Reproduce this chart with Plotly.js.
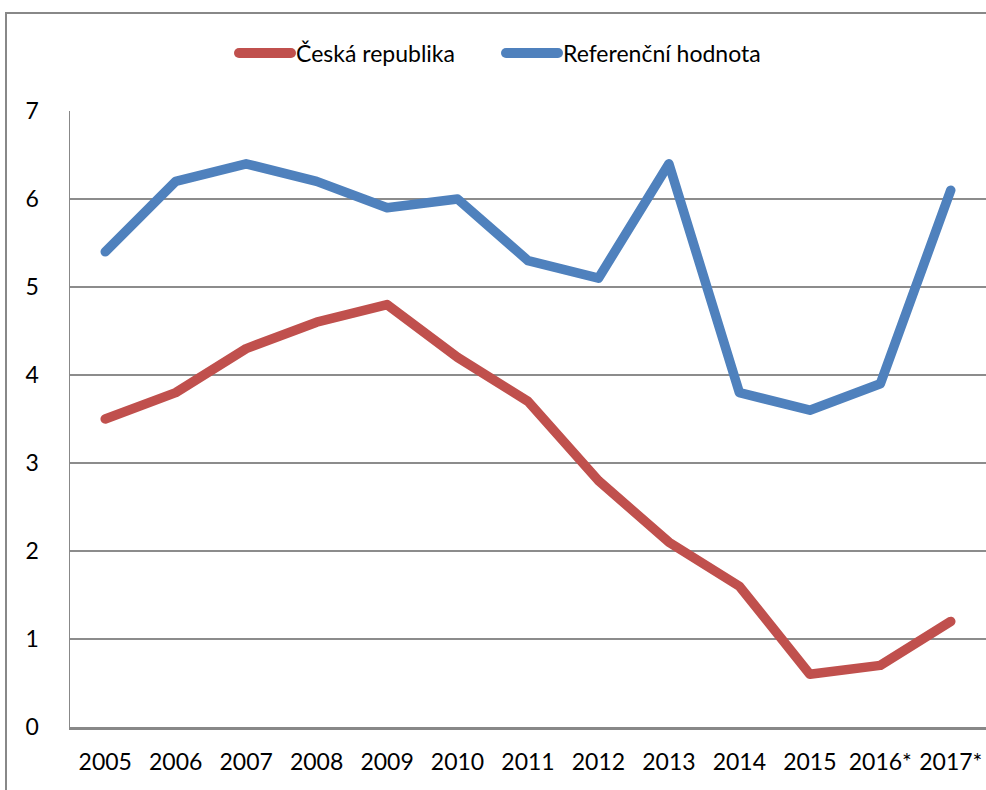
<!DOCTYPE html>
<html>
<head>
<meta charset="utf-8">
<script src="https://cdn.plot.ly/plotly-3.0.1.min.js"></script>
<style>
html,body{margin:0;padding:0;background:#fff;}
#chart{width:986px;height:790px;}
#chart .scatterlayer path.js-line{stroke-linecap:round !important;stroke-linejoin:round !important;}
#chart .shapelayer path{stroke-linecap:round !important;}
</style>
</head>
<body>
<div id="chart"></div>
<script>
const years = ["2005","2006","2007","2008","2009","2010","2011","2012","2013","2014","2015","2016*","2017*"];
const seriesNames = ["Česká republika","Referenční hodnota"];
const ceskaRepublika = [3.5,3.8,4.3,4.6,4.8,4.2,3.7,2.8,2.1,1.6,0.6,0.7,1.2];
const referencniHodnota = [5.4,6.2,6.4,6.2,5.9,6.0,5.3,5.1,6.4,3.8,3.6,3.9,6.1];
const colors = ["#C0504D","#4F81BD"];

const FONT = "Lato, 'Open Sans', sans-serif";
const FS = 23;

const traces = [
  {x: years, y: ceskaRepublika, name: seriesNames[0], type: "scatter", mode: "lines",
   line: {color: colors[0], width: 9.5}, showlegend: false, hoverinfo: "x+y"},
  {x: years, y: referencniHodnota, name: seriesNames[1], type: "scatter", mode: "lines",
   line: {color: colors[1], width: 9.5}, showlegend: false, hoverinfo: "x+y"}
];

// custom legend in paper coordinates (plot area: x 70..986 px, y 111..727 px)
const px = v => (v - 70) / 916;
const py = v => (727 - v) / 616;
const legY = py(53);
const legend = [
  {x0: 239, x1: 291, tx: 294, c: colors[0], t: seriesNames[0]},
  {x0: 506, x1: 558, tx: 561, c: colors[1], t: seriesNames[1]}
];

const shapes = [
  {type: "rect", xref: "paper", yref: "paper", x0: px(6), x1: 1.1, y0: -0.3, y1: py(13),
   line: {color: "#888888", width: 2}, fillcolor: "rgba(0,0,0,0)", layer: "below"}
];
const annotations = [];
legend.forEach(l => {
  shapes.push({type: "line", xref: "paper", yref: "paper", x0: px(l.x0), x1: px(l.x1), y0: legY, y1: legY,
    line: {color: l.c, width: 10}});
  annotations.push({xref: "paper", yref: "paper", x: px(l.tx), y: legY, xanchor: "left", yanchor: "middle",
    text: l.t, showarrow: false, font: {family: FONT, size: FS, color: "#000"}});
});

const layout = {
  width: 986, height: 790,
  margin: {l: 70, r: 0, t: 111, b: 63},
  paper_bgcolor: "#fff", plot_bgcolor: "#fff",
  font: {family: FONT, size: FS, color: "#000"},
  showlegend: false,
  xaxis: {
    type: "category", range: [-0.5, 12.5], showgrid: false, zeroline: false,
    showline: true, linecolor: "#888888", linewidth: 2.5,
    ticks: "", ticklabelstandoff: 13, tickfont: {family: FONT, size: FS, color: "#000"}, fixedrange: true
  },
  yaxis: {
    range: [0, 7], dtick: 1, tick0: 0, showgrid: true, gridcolor: "#8c8c8c", gridwidth: 1.5,
    zeroline: false, showline: true, linecolor: "#888888", linewidth: 1.5,
    ticks: "", ticklabelstandoff: 25, tickfont: {family: FONT, size: FS, color: "#000"}, fixedrange: true
  },
  shapes: shapes,
  annotations: annotations
};

Plotly.newPlot("chart", traces, layout, {displayModeBar: false, staticPlot: true});
</script>
</body>
</html>
